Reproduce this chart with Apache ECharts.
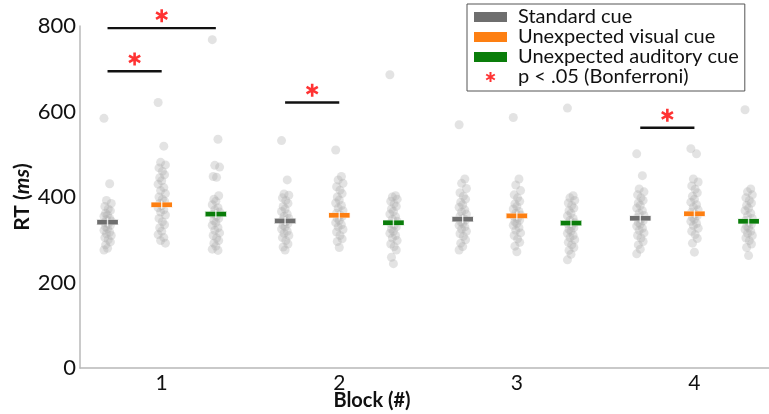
<!DOCTYPE html>
<html>
<head>
<meta charset="utf-8">
<script src="https://cdn.jsdelivr.net/npm/echarts@6/dist/echarts.min.js"></script>
<style>
  html, body { margin: 0; padding: 0; background: #fff; }
  #chart { width: 769px; height: 414px; }
</style>
</head>
<body>
<div id="chart"></div>
<script>
// blocks on the x axis
var blocks = [1, 2, 3, 4];
var conditions = ['Standard cue', 'Unexpected visual cue', 'Unexpected auditory cue'];
var condColors = ['#6e6e6e', '#fd7f12', '#0a7d0a'];
var condOffset = [-0.305, 0, 0.305];

// mean RT per block, one array per condition
var meanStandard = [341, 344, 348, 350];
var meanVisual = [382, 357, 356, 361];
var meanAuditory = [360, 340, 339, 343];

// individual participant RTs (ms)
var rtStandard = [
  [584, 431, 392, 385, 378, 372, 368, 362, 358, 355, 350, 347, 344, 340, 337, 334, 330, 326, 322, 318, 314, 310, 305, 300, 295, 288, 280, 276],
  [532, 440, 407, 404, 398, 392, 385, 378, 372, 366, 360, 355, 350, 346, 342, 338, 334, 330, 325, 320, 315, 310, 305, 298, 290, 283, 276],
  [569, 442, 432, 420, 410, 402, 395, 388, 382, 376, 370, 365, 360, 355, 350, 346, 342, 338, 334, 330, 325, 320, 314, 308, 300, 292, 284, 276],
  [501, 450, 419, 412, 405, 398, 392, 386, 380, 374, 368, 362, 357, 352, 348, 344, 340, 336, 332, 327, 322, 316, 310, 304, 296, 288, 278, 267]
];
var rtVisual = [
  [621, 519, 481, 475, 468, 460, 452, 445, 438, 430, 422, 415, 408, 400, 395, 390, 385, 380, 375, 370, 365, 358, 350, 342, 335, 328, 320, 312, 305, 298, 292],
  [510, 448, 440, 432, 424, 416, 408, 400, 393, 386, 380, 374, 368, 362, 358, 354, 350, 345, 340, 335, 330, 324, 318, 310, 302, 296, 282],
  [586, 442, 428, 415, 405, 398, 390, 384, 378, 372, 366, 362, 358, 354, 350, 346, 342, 338, 334, 328, 322, 316, 310, 302, 294, 285, 272],
  [513, 501, 442, 435, 426, 418, 410, 402, 395, 388, 382, 376, 370, 365, 360, 356, 352, 348, 343, 338, 333, 327, 320, 312, 303, 292, 271]
];
var rtAuditory = [
  [768, 535, 474, 470, 448, 446, 403, 395, 390, 382, 375, 370, 365, 360, 355, 350, 345, 340, 334, 328, 322, 316, 310, 304, 298, 292, 285, 278, 275],
  [686, 403, 400, 395, 390, 384, 378, 372, 366, 360, 354, 348, 343, 338, 334, 330, 325, 320, 315, 310, 304, 298, 290, 284, 276, 259, 244],
  [608, 403, 398, 392, 386, 380, 374, 368, 362, 356, 350, 345, 340, 336, 332, 328, 324, 320, 315, 310, 305, 300, 294, 288, 282, 275, 266, 253],
  [604, 419, 412, 405, 398, 392, 386, 380, 374, 368, 362, 356, 350, 345, 340, 336, 332, 328, 324, 320, 315, 310, 304, 298, 290, 282, 263]
];

// significant pairs: block, condition index from/to, bar height (ms)
var sigBlock = [1, 1, 2, 4];
var sigFrom = [0, 0, 0, 0];
var sigTo = [2, 1, 1, 1];
var sigY = [795, 694, 621, 562];

var yTicks = [0, 200, 400, 600, 800];

// small fixed horizontal spread for the dots
var jitter = [-0.02, 0.012, -0.006, 0.021, -0.015, 0.004, 0.016, -0.011, 0];

var asteriskPath = 'path://M-1.2,-6L1.2,-6L1.2,6L-1.2,6ZM4.596,-4.04L5.796,-1.96L-4.596,4.04L-5.796,1.96ZM-5.796,-1.96L-4.596,-4.04L5.796,1.96L4.596,4.04Z';
var font = 'Lato, "Open Sans", sans-serif';

var chart = echarts.init(document.getElementById('chart'));

var allRt = [rtStandard, rtVisual, rtAuditory];
var allMean = [meanStandard, meanVisual, meanAuditory];
var series = [];

// grey dots
var dots = [];
allRt.forEach(function (cond, c) {
  cond.forEach(function (vals, b) {
    vals.forEach(function (v, i) {
      dots.push([blocks[b] + condOffset[c] + jitter[i % jitter.length], v]);
    });
  });
});
series.push({
  type: 'scatter',
  name: 'dots',
  data: dots,
  symbolSize: 9,
  itemStyle: { color: 'rgba(172,172,172,0.42)' },
  silent: true,
  z: 2
});

// mean markers
allMean.forEach(function (m, c) {
  series.push({
    type: 'scatter',
    name: conditions[c],
    data: m.map(function (v, b) { return [blocks[b] + condOffset[c], v]; }),
    symbol: 'rect',
    symbolSize: [22, 5],
    itemStyle: { color: condColors[c], borderColor: '#fff', borderWidth: 0.6, opacity: 1 },
    z: 5
  });
});
// white centre tick on the means
var ticks = [];
allMean.forEach(function (m, c) {
  m.forEach(function (v, b) { ticks.push([blocks[b] + condOffset[c], v]); });
});
series.push({
  type: 'scatter',
  name: 'centre',
  data: ticks,
  symbol: 'rect',
  symbolSize: [1.4, 8],
  itemStyle: { color: '#fff' },
  silent: true,
  z: 6
});

// significance bars
sigBlock.forEach(function (b, k) {
  series.push({
    type: 'line',
    name: 'bar' + k,
    data: [[b + condOffset[sigFrom[k]], sigY[k]], [b + condOffset[sigTo[k]], sigY[k]]],
    symbol: 'none',
    lineStyle: { color: '#111', width: 2.4 },
    silent: true,
    clip: false,
    z: 4
  });
});
series.push({
  type: 'scatter',
  name: 'p < .05 (Bonferroni)',
  data: sigBlock.map(function (b, k) {
    return [b + (condOffset[sigFrom[k]] + condOffset[sigTo[k]]) / 2, sigY[k] + 29];
  }),
  symbol: asteriskPath,
  symbolSize: 13,
  symbolKeepAspect: true,
  itemStyle: { color: '#ff0000' },
  clip: false,
  z: 5
});

var option = {
  animation: false,
  grid: { left: 80, right: 0, top: 26, bottom: 46, outerBoundsMode: 'none' },
  legend: {
    left: 467,
    top: 4,
    orient: 'vertical',
    data: [
      { name: conditions[0], icon: 'rect', itemStyle: { color: condColors[0], borderWidth: 0 } },
      { name: conditions[1], icon: 'rect', itemStyle: { color: condColors[1], borderWidth: 0 } },
      { name: conditions[2], icon: 'rect', itemStyle: { color: condColors[2], borderWidth: 0 } },
      { name: 'p < .05 (Bonferroni)', icon: asteriskPath, itemStyle: { color: '#ff0000' } }
    ],
    itemWidth: 33,
    itemHeight: 10,
    itemGap: 0,
    padding: [3, 6, 4, 7],
    borderColor: '#555',
    borderWidth: 1,
    selectedMode: false,
    textStyle: { fontFamily: font, fontSize: 20, lineHeight: 17.5, color: '#111', padding: [0, 0, 0, 6] }
  },
  xAxis: {
    type: 'value',
    min: 0.54,
    max: 4.42,
    name: 'Block (#)',
    nameLocation: 'middle',
    nameGap: 23,
    nameMoveOverlap: false,
    nameTextStyle: { fontFamily: font, fontSize: 20, fontWeight: 'bold', color: '#111', padding: [0, 105, 0, 0] },
    axisLine: { lineStyle: { color: '#b8b8b8', width: 1.5 } },
    axisTick: { show: false },
    splitLine: { show: false },
    axisLabel: { customValues: blocks, fontFamily: font, fontSize: 21, color: '#111', margin: 5 }
  },
  yAxis: {
    type: 'value',
    min: 0,
    max: 800,
    interval: 200,
    name: '{b|RT (}{i|ms}{b|)}',
    nameLocation: 'middle',
    nameGap: 47,
    nameMoveOverlap: false,
    nameTextStyle: {
      rich: {
        b: { fontFamily: font, fontSize: 21, fontWeight: 'bold', color: '#111' },
        i: { fontFamily: font, fontSize: 21, fontWeight: 'bold', fontStyle: 'italic', color: '#111' }
      }
    },
    axisLine: { show: true, lineStyle: { color: '#b8b8b8', width: 1.5 } },
    axisTick: { show: false },
    splitLine: { show: false },
    axisLabel: {
      customValues: yTicks,
      fontFamily: font, fontSize: 22, color: '#111', margin: 4
    }
  },
  series: series
};

chart.setOption(option);
</script>
</body>
</html>
